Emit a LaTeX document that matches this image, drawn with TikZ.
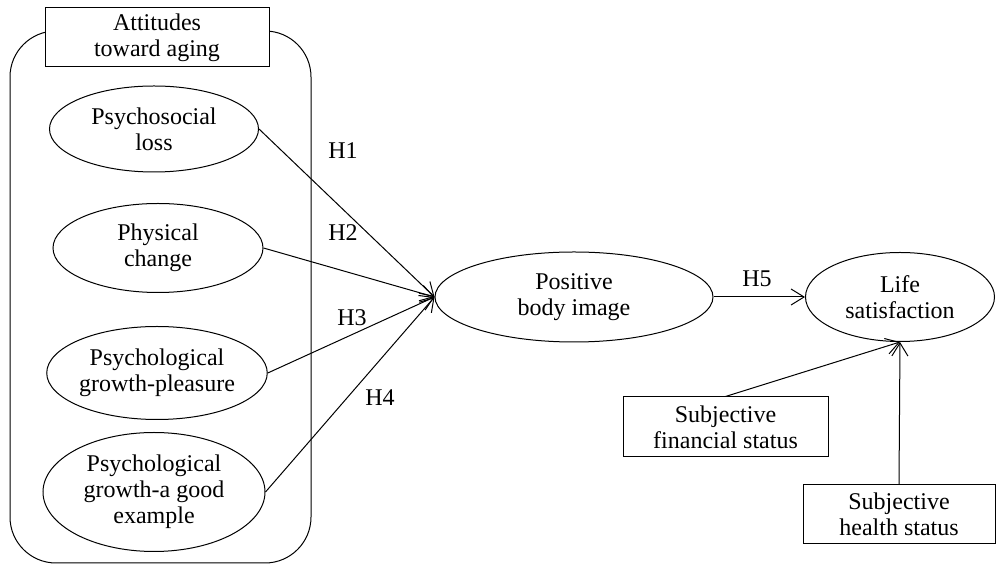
\documentclass[tikz,border=0pt]{standalone}
\usepackage{fontspec}
\setmainfont{Liberation Serif}
\usetikzlibrary{shapes.geometric,arrows.meta}
\begin{document}
\begin{tikzpicture}[x=0.5pt,y=-0.5pt,
  every node/.style={font=\fontsize{12}{13}\selectfont, align=center, inner sep=0pt},
  ell/.style={draw, ellipse, line width=0.5pt},
  boxn/.style={draw, rectangle, line width=0.5pt, fill=white},
  arr/.style={line width=0.5pt, -{Straight Barb[length=6.5pt,width=8pt]}}]
\useasboundingbox (0,0) rectangle (996,565);
% container
\draw[line width=0.5pt, rounded corners=23pt] (10,31) rectangle (311,563);
\node[boxn, minimum width=112pt, minimum height=29.5pt] (title) at (157,37.5) {Attitudes\\toward aging};
% left ellipses
\node[ell, minimum width=104.5pt, minimum height=43pt] (e1) at (154,129) {Psychosocial\\loss};
\node[ell, minimum width=105pt, minimum height=44.5pt] (e2) at (158,248) {Physical\\change};
\node[ell, minimum width=107.5pt, minimum height=46.5pt] (e3) at (157,373) {Psychological\\growth-pleasure};
\node[ell, minimum width=111pt, minimum height=59.5pt] (e4) at (154,492) {Psychological\\growth-a good\\example};
% center & right
\node[ell, minimum width=139pt, minimum height=45pt] (pbi) at (574,297) {Positive\\body image};
\node[ell, minimum width=94.5pt, minimum height=44.5pt] (ls) at (900,297) {Life\\satisfaction};
\node[boxn, minimum width=102.5pt, minimum height=30pt] (fin) at (725.5,427) {Subjective\\financial status};
\node[boxn, minimum width=96pt, minimum height=29.5pt] (hea) at (899,514.5) {Subjective\\health status};
% arrows
\draw[arr] (e1.east) -- (pbi.west);
\draw[arr] (e2.east) -- (pbi.west);
\draw[arr] (e3.east) -- (pbi.west);
\draw[arr] (e4.east) -- (pbi.west);
\draw[arr] (pbi.east) -- (ls.west);
\draw[arr] (fin.north) -- (ls.south);
\draw[arr] (hea.north) -- (ls.south);
% labels
\node (h1) at (343,151) {H1};
\node (h2) at (343,233) {H2};
\node (h3) at (352,318) {H3};
\node (h4) at (380,398) {H4};
\node (h5) at (757,279) {H5};
\end{tikzpicture}
\end{document}
